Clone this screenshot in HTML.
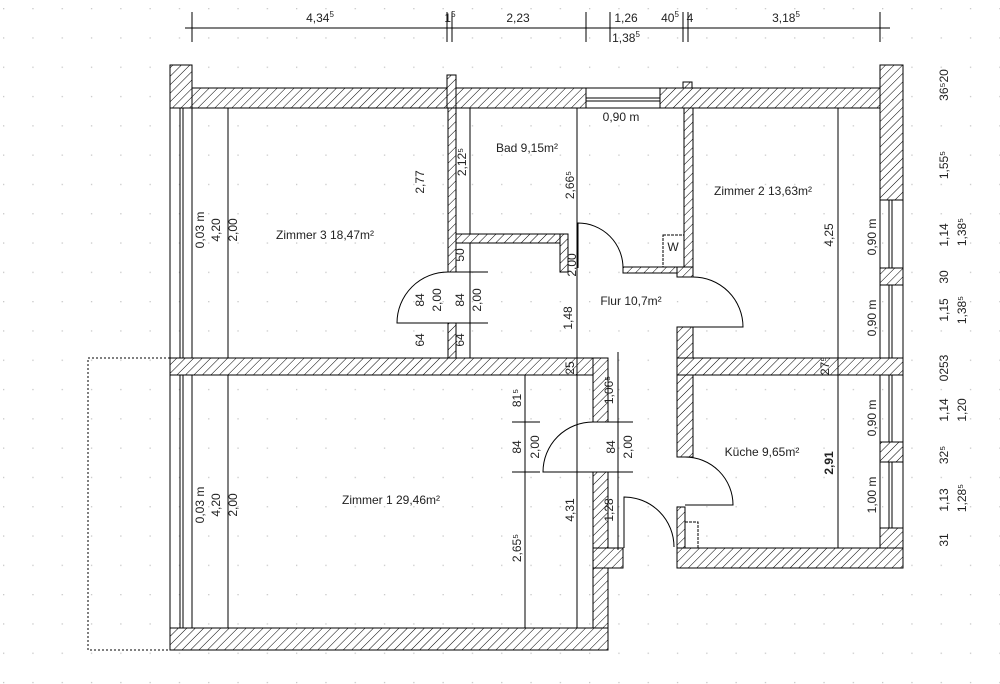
<!DOCTYPE html>
<html><head><meta charset="utf-8"><style>
html,body{margin:0;padding:0;background:#fff;}
svg{display:block;font-family:"Liberation Sans",sans-serif;}
text{font-size:12px;fill:#222;}
</style></head><body>
<svg width="1000" height="684" viewBox="0 0 1000 684" xmlns="http://www.w3.org/2000/svg">
<defs>
<pattern id="h" width="6" height="6" patternUnits="userSpaceOnUse" patternTransform="rotate(45)">
<rect width="6" height="6" fill="#fff"/><line x1="0" y1="0" x2="0" y2="6" stroke="#000" stroke-width="1"/>
</pattern>
<pattern id="d" width="29.3" height="29.3" patternUnits="userSpaceOnUse" x="3" y="8">
<rect x="0" y="0" width="1.3" height="1.3" fill="#c8c8c8"/>
</pattern>
</defs>
<rect width="1000" height="684" fill="#fff"/>
<rect width="1000" height="684" fill="url(#d)"/>

<g stroke="#000" stroke-width="1" fill="none">
<line x1="185" y1="28" x2="890" y2="28"/>
<line x1="192" y1="12" x2="192" y2="42"/><line x1="447" y1="12" x2="447" y2="42"/><line x1="452" y1="12" x2="452" y2="42"/>
<line x1="586" y1="12" x2="586" y2="42"/><line x1="610" y1="12" x2="610" y2="42"/><line x1="683" y1="12" x2="683" y2="42"/>
<line x1="688" y1="12" x2="688" y2="42"/><line x1="880" y1="12" x2="880" y2="42"/>
<rect x="88" y="358" width="82" height="292" stroke-dasharray="2,2"/>
</g>

<g stroke="#000" stroke-width="1" fill="url(#h)">
<rect x="170" y="65" width="22" height="43"/>
<rect x="192" y="88" width="394" height="20"/>
<rect x="447" y="75" width="9" height="33"/>
<rect x="448" y="108" width="8" height="164"/>
<rect x="448" y="323" width="8" height="35"/>
<rect x="660" y="88" width="243" height="20"/>
<rect x="683" y="82" width="9" height="6"/>
<rect x="880" y="65" width="23" height="135"/>
<rect x="684" y="108" width="9" height="169"/>
<rect x="623" y="267" width="70" height="6"/>
<rect x="677" y="267" width="16" height="10"/>
<rect x="456" y="234" width="112" height="9"/>
<rect x="560" y="234" width="8" height="38"/>
<rect x="170" y="358" width="433" height="17"/>
<rect x="593" y="358" width="15" height="64"/>
<rect x="593" y="472" width="15" height="76"/>
<rect x="593" y="548" width="30" height="20"/>
<rect x="593" y="568" width="15" height="82"/>
<rect x="170" y="628" width="438" height="22"/>
<rect x="677" y="327" width="16" height="33"/>
<rect x="677" y="358" width="226" height="17"/>
<rect x="677" y="375" width="16" height="82"/>
<rect x="677" y="507" width="8" height="61"/>
<rect x="677" y="548" width="226" height="20"/>
<rect x="880" y="268" width="23" height="17"/>
<rect x="880" y="442" width="23" height="20"/>
<rect x="880" y="528" width="23" height="20"/>
</g>

<g stroke="#000" stroke-width="1" fill="none">
<rect x="586" y="88" width="74" height="20" fill="#fff"/>
<line x1="586" y1="98" x2="660" y2="98"/><line x1="586" y1="101" x2="660" y2="101"/>
<line x1="170" y1="108" x2="170" y2="358"/><line x1="180" y1="108" x2="180" y2="358"/><line x1="183" y1="108" x2="183" y2="358"/><line x1="192" y1="108" x2="192" y2="358"/>
<line x1="170" y1="375" x2="170" y2="628"/><line x1="180" y1="375" x2="180" y2="628"/><line x1="183" y1="375" x2="183" y2="628"/><line x1="192" y1="375" x2="192" y2="628"/>
<line x1="880" y1="200" x2="880" y2="268"/><line x1="903" y1="200" x2="903" y2="268"/><line x1="889" y1="200" x2="889" y2="268"/><line x1="892" y1="200" x2="892" y2="268"/>
<line x1="880" y1="285" x2="880" y2="358"/><line x1="903" y1="285" x2="903" y2="358"/><line x1="889" y1="285" x2="889" y2="358"/><line x1="892" y1="285" x2="892" y2="358"/>
<line x1="880" y1="375" x2="880" y2="442"/><line x1="903" y1="375" x2="903" y2="442"/><line x1="889" y1="375" x2="889" y2="442"/><line x1="892" y1="375" x2="892" y2="442"/>
<line x1="880" y1="462" x2="880" y2="528"/><line x1="903" y1="462" x2="903" y2="528"/><line x1="889" y1="462" x2="889" y2="528"/><line x1="892" y1="462" x2="892" y2="528"/>
<path d="M448 272 A51 51 0 0 0 397 323 H448"/>
<line x1="448" y1="272" x2="488" y2="272"/><line x1="456" y1="323" x2="488" y2="323"/>
<path d="M578 268 V223 A45 45 0 0 1 623 268"/>
<path d="M693 277 A50 50 0 0 1 743 327 H693"/>
<path d="M685 457 A48 48 0 0 1 733 505 H685"/>
<path d="M593 422 A50 50 0 0 0 543 472 H608"/>
<line x1="593" y1="422" x2="630" y2="422"/>
<path d="M624 548 V497 A50 50 0 0 1 674 547"/>
<rect x="663" y="235" width="21" height="32" stroke-dasharray="3,1"/>
<rect x="685" y="522" width="13" height="26" stroke-dasharray="3,1"/>
<line x1="228" y1="108" x2="228" y2="358"/><line x1="228" y1="375" x2="228" y2="628"/>
<line x1="470" y1="108" x2="470" y2="234"/>
<line x1="470" y1="243" x2="470" y2="358"/>
<line x1="577" y1="108" x2="577" y2="628"/>
<line x1="525" y1="375" x2="525" y2="628"/>
<line x1="512" y1="422" x2="540" y2="422"/><line x1="512" y1="472" x2="540" y2="472"/>
<line x1="618" y1="352" x2="618" y2="550"/>
<line x1="605" y1="422" x2="633" y2="422"/><line x1="605" y1="472" x2="633" y2="472"/>
<line x1="838" y1="108" x2="838" y2="548"/>
</g>

<text x="320" y="22" text-anchor="middle">4,34<tspan dy="-5" font-size="8">5</tspan></text>
<text x="450" y="22" text-anchor="middle">1<tspan dy="-5" font-size="8">5</tspan></text>
<text x="518" y="22" text-anchor="middle">2,23</text>
<text x="626" y="22" text-anchor="middle">1,26</text>
<text x="626" y="42" text-anchor="middle">1,38<tspan dy="-5" font-size="8">5</tspan></text>
<text x="670" y="22" text-anchor="middle">40<tspan dy="-5" font-size="8">5</tspan></text>
<text x="690" y="22" text-anchor="middle">4</text>
<text x="786" y="22" text-anchor="middle">3,18<tspan dy="-5" font-size="8">5</tspan></text>

<text x="527" y="152" text-anchor="middle">Bad 9,15m²</text>
<text x="621" y="121" text-anchor="middle">0,90 m</text>
<text x="763" y="195" text-anchor="middle">Zimmer 2 13,63m²</text>
<text x="325" y="239" text-anchor="middle">Zimmer 3 18,47m²</text>
<text x="631" y="305" text-anchor="middle">Flur 10,7m²</text>
<text x="762" y="456" text-anchor="middle">Küche 9,65m²</text>
<text x="391" y="504" text-anchor="middle">Zimmer 1 29,46m²</text>
<text x="673" y="251" text-anchor="middle">W</text>

<g text-anchor="middle">
<text transform="translate(204,230) rotate(-90)">0,03 m</text>
<text transform="translate(220,230) rotate(-90)">4,20</text>
<text transform="translate(237,230) rotate(-90)">2,00</text>
<text transform="translate(204,505) rotate(-90)">0,03 m</text>
<text transform="translate(220,505) rotate(-90)">4,20</text>
<text transform="translate(237,505) rotate(-90)">2,00</text>
<text transform="translate(424,182) rotate(-90)">2,77</text>
<text transform="translate(466,162) rotate(-90)">2,12⁵</text>
<text transform="translate(574,185) rotate(-90)">2,66⁵</text>
<text transform="translate(833,235) rotate(-90)">4,25</text>
<text transform="translate(876,237) rotate(-90)">0,90 m</text>
<text transform="translate(876,318) rotate(-90)">0,90 m</text>
<text transform="translate(876,418) rotate(-90)">0,90 m</text>
<text transform="translate(876,495) rotate(-90)">1,00 m</text>
<text transform="translate(833,463) rotate(-90)" font-weight="bold">2,91</text>
<text transform="translate(574,510) rotate(-90)">4,31</text>
<text transform="translate(521,548) rotate(-90)">2,65⁵</text>
<text transform="translate(521,398) rotate(-90)">81⁵</text>
<text transform="translate(521,447) rotate(-90)">84</text>
<text transform="translate(539,447) rotate(-90)">2,00</text>
<text transform="translate(615,447) rotate(-90)">84</text>
<text transform="translate(632,447) rotate(-90)">2,00</text>
<text transform="translate(613,390) rotate(-90)">1,06⁵</text>
<text transform="translate(613,510) rotate(-90)">1,28</text>
<text transform="translate(572,318) rotate(-90)">1,48</text>
<text transform="translate(424,300) rotate(-90)">84</text>
<text transform="translate(441,300) rotate(-90)">2,00</text>
<text transform="translate(464,300) rotate(-90)">84</text>
<text transform="translate(481,300) rotate(-90)">2,00</text>
<text transform="translate(424,340) rotate(-90)">64</text>
<text transform="translate(464,340) rotate(-90)">64</text>
<text transform="translate(464,255) rotate(-90)">50</text>
<text transform="translate(574,368) rotate(-90)" font-size="10">25</text>
<text transform="translate(576,265) rotate(-90)">2,00</text>
<text transform="translate(829,366) rotate(-90)" font-size="10">27⁵</text>
<text transform="translate(948,85) rotate(-90)">36⁵20</text>
<text transform="translate(948,165) rotate(-90)">1,55⁵</text>
<text transform="translate(948,235) rotate(-90)">1,14</text>
<text transform="translate(966,232) rotate(-90)">1,38⁵</text>
<text transform="translate(948,277) rotate(-90)">30</text>
<text transform="translate(948,310) rotate(-90)">1,15</text>
<text transform="translate(966,310) rotate(-90)">1,38⁵</text>
<text transform="translate(948,368) rotate(-90)">0253</text>
<text transform="translate(948,410) rotate(-90)">1,14</text>
<text transform="translate(966,410) rotate(-90)">1,20</text>
<text transform="translate(948,455) rotate(-90)">32⁵</text>
<text transform="translate(948,500) rotate(-90)">1,13</text>
<text transform="translate(966,498) rotate(-90)">1,28⁵</text>
<text transform="translate(948,540) rotate(-90)">31</text>
</g>
</svg>
</body></html>
